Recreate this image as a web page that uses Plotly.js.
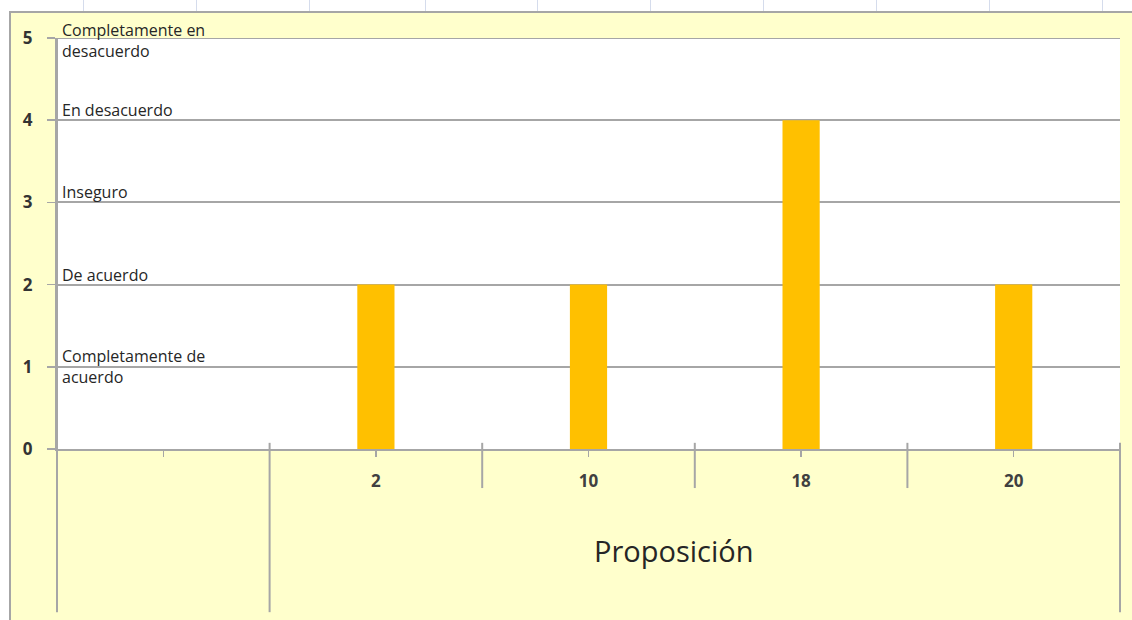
<!DOCTYPE html>
<html>
<head>
<meta charset="utf-8">
<script src="https://cdn.plot.ly/plotly-3.0.1.min.js"></script>
<style>
  html, body { margin: 0; padding: 0; background: #ffffff; width: 1132px; height: 620px; overflow: hidden; }
  #frame { position: absolute; left: 9px; top: 11px; width: 1123px; height: 609px;
           border-top: 2px solid #a6a6a6; border-left: 2px solid #a6a6a6; background: #ffffcc; }
  #chart { position: absolute; left: 0; top: 0; width: 1121px; height: 607px; }
  .gridmark { position: absolute; top: 0; width: 1px; height: 11px; background: #d5dcec; }
</style>
</head>
<body>
<div id="marks"></div>
<div id="frame"><div id="chart"></div></div>
<script>
// ---- data ----
var categories = [" ", "2", "10", "18", "20"];
var values = [null, 2, 2, 4, 2];
var groupLabel = "Proposición";
var yTicks = [0, 1, 2, 3, 4, 5];
var scaleLabels = [
  "Completamente de<br>acuerdo",
  "De acuerdo",
  "Inseguro",
  "En desacuerdo",
  "Completamente en<br>desacuerdo"
];
var scaleValues = [1, 2, 3, 4, 5];

// spreadsheet grid marks above the chart (decoration)
var marks = document.getElementById('marks');
[83, 196, 309, 425, 537, 650, 763, 876, 989, 1102].forEach(function (x) {
  var d = document.createElement('div');
  d.className = 'gridmark';
  d.style.left = x + 'px';
  marks.appendChild(d);
});

var grey = '#a6a6a6';
var txt = '#262626';

var trace = {
  type: 'bar',
  x: categories,
  y: values,
  marker: { color: '#ffc000', line: { width: 0 } },
  hoverinfo: 'x+y'
};

var shapes = [];
var longDrop = -0.397;
var shortDrop = -0.095;
// top gridline (at the top of the value range)
shapes.push({ type: 'line', xref: 'paper', yref: 'y', x0: 0, x1: 1, y0: yTicks[yTicks.length - 1], y1: yTicks[yTicks.length - 1],
              line: { color: grey, width: 2 } });
// full-height left axis extension and right boundary
shapes.push({ type: 'line', xref: 'paper', yref: 'paper', x0: 0, x1: 0, y0: longDrop, y1: 1,
              line: { color: grey, width: 2 } });
shapes.push({ type: 'line', xref: 'paper', yref: 'paper', x0: 1, x1: 1, y0: longDrop, y1: 0.015,
              line: { color: grey, width: 2 } });
// boundaries between categories
for (var i = 0; i < categories.length - 1; i++) {
  var b = i + 0.5;
  shapes.push({ type: 'line', xref: 'x', yref: 'paper', x0: b, x1: b,
                y0: (i === 0 ? longDrop : shortDrop), y1: 0.015,
                line: { color: grey, width: 2 } });
}

var annotations = [];
for (var k = 0; k < scaleLabels.length; k++) {
  var twoLine = scaleLabels[k].indexOf('<br>') >= 0;
  annotations.push({
    xref: 'paper', yref: 'y', x: 0, y: scaleValues[k],
    xanchor: 'left', yanchor: twoLine ? 'middle' : 'bottom',
    xshift: 3, yshift: twoLine ? (scaleValues[k] === 5 ? -2 : 0) : -3,
    text: scaleLabels[k], showarrow: false, align: 'left',
    font: { family: 'Open Sans, sans-serif', size: 16, color: txt }
  });
}
annotations.push({
  xref: 'x', yref: 'paper', x: 2.4, y: -0.248,
  xanchor: 'center', yanchor: 'middle',
  text: groupLabel, showarrow: false,
  font: { family: 'Open Sans, sans-serif', size: 29, color: txt }
});

var layout = {
  width: 1121, height: 607,
  margin: { l: 46, r: 12, t: 25, b: 171 },
  paper_bgcolor: '#ffffcc',
  plot_bgcolor: '#ffffff',
  showlegend: false,
  bargap: 0.825,
  xaxis: {
    type: 'category',
    categoryorder: 'array', categoryarray: categories,
    range: [-0.5, 4.5],
    showline: true, linecolor: grey, linewidth: 2,
    ticks: 'outside', ticklen: 6, tickwidth: 1.5, tickcolor: grey,
    ticklabelstandoff: 10,
    tickfont: { family: 'Open Sans, sans-serif', size: 17, color: '#404040', weight: 'bold' },
    showgrid: false, zeroline: false, fixedrange: true
  },
  yaxis: {
    range: [0, 5],
    tickvals: yTicks,
    showline: true, linecolor: grey, linewidth: 2,
    ticks: 'outside', ticklen: 8, tickwidth: 1.5, tickcolor: grey,
    ticklabelstandoff: 11,
    tickfont: { family: 'Open Sans, sans-serif', size: 17, color: '#333333', weight: 'bold' },
    showgrid: true, gridcolor: grey, gridwidth: 2,
    zeroline: false, fixedrange: true
  },
  shapes: shapes,
  annotations: annotations
};

Plotly.newPlot('chart', [trace], layout, { displayModeBar: false, staticPlot: true });
</script>
</body>
</html>
